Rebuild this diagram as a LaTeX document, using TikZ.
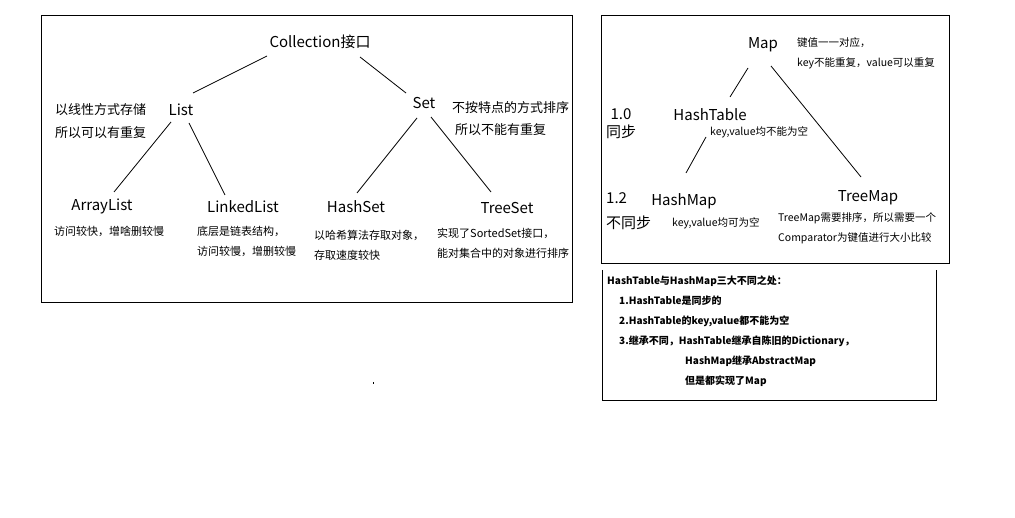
\documentclass[tikz,border=0pt]{standalone}
\usepackage{fontspec}
\setmainfont{Noto Sans CJK SC}
\usetikzlibrary{calc}
\tikzset{
  frame/.style={line width=1pt, color=black},
  branch/.style={line width=0.8pt, color=black},
  label/.style={inner sep=0pt, font=\fontsize{15}{18}\selectfont},
  note/.style={inner sep=0pt, anchor=west, align=left, font=\fontsize{11}{20}\selectfont},
}
\begin{document}
\begin{tikzpicture}[x=1pt, y=-1pt]
			%%%%% START %%%%%
			\useasboundingbox (0, 0) rectangle (1015, 518);
			
			% Collection tree
			\draw[frame] (41, 16) rectangle (572, 303);
			
			\node[label] (coll) at (320, 42) {Collection接口};
			\node[label] (list) at (181, 110) {List};
			\node[label] (set) at (424, 103) {Set};
			\node[label] (arraylist) at (102, 206) {ArrayList};
			\node[label] (linkedlist) at (243, 207) {LinkedList};
			\node[label] (hashset) at (356, 207) {HashSet};
			\node[label] (treeset) at (507, 208) {TreeSet};
			
			\node[note, font=\fontsize{13}{23}\selectfont] (listnote) at (55, 121.5) {以线性方式存储\\所以可以有重复};
			\node[note, font=\fontsize{13}{22}\selectfont] (setnote) at (452, 119) {不按特点的方式排序\\\hspace*{3pt}所以不能有重复};
			\node[note] (arraynote) at (54, 231) {访问较快，增啥删较慢};
			\node[note] (linkednote) at (197, 241) {底层是链表结构，\\访问较慢，增删较慢};
			\node[note] (hashsetnote) at (314, 245) {以哈希算法存取对象，\\存取速度较快};
			\node[note] (treesetnote) at (437, 243) {实现了SortedSet接口，\\能对集合中的对象进行排序};
			
			\draw[branch] ($(coll)+(-53, 14)$) -- ($(list)+(12, -17)$);
			\draw[branch] ($(coll)+(40, 15)$) -- ($(set)+(-18, -10)$);
			\draw[branch] ($(list)+(-10, 12)$) -- ($(arraylist)+(12, -14)$);
			\draw[branch] ($(list)+(8, 13)$) -- ($(linkedlist)+(-18, -12)$);
			\draw[branch] ($(set)+(-7, 15)$) -- ($(hashset)+(1, -14)$);
			\draw[branch] ($(set)+(7, 14)$) -- ($(treeset)+(-16, -16)$);
			
			\fill (372.5, 382.5) rectangle (374, 384);
			
			% Map tree
			\draw[frame] (601, 16) rectangle (949, 264);
			
			\node[label] (map) at (763, 45) {Map};
			\node[label] (hashtable) at (710, 115) {HashTable};
			\node[label] (hashmap) at (684, 201) {HashMap};
			\node[label] (treemap) at (868, 198) {TreeMap};
			
			\node[label, align=center] (v10) at (621, 124) {1.0\\同步};
			\node[label, anchor=west, align=left, font=\fontsize{15}{25}\selectfont] (v12) at (606, 211.5) {1.2\\不同步};
			
			\node[note, font=\fontsize{10.5}{20}\selectfont] (mapnote) at (797, 53) {键值一一对应，\\key不能重复，value可以重复};
			\node[note, font=\fontsize{10.5}{20}\selectfont] (hashtablenote) at (710, 132) {key,value均不能为空};
			\node[note, font=\fontsize{10.5}{20}\selectfont] (hashmapnote) at (672, 223) {key,value均可为空};
			\node[note, font=\fontsize{10.5}{20}\selectfont] (treemapnote) at (778, 228) {TreeMap需要排序，所以需要一个\\Comparator为键值进行大小比较};
			
			\draw[branch] ($(map)+(-15, 23)$) -- ($(hashtable)+(20, -18)$);
			\draw[branch] ($(map)+(8, 21)$) -- ($(treemap)+(-7, -21)$);
			\draw[branch] ($(hashtable)+(-4, 22)$) -- ($(hashmap)+(2, -28)$);
			
			% differences
			\draw[frame] (602, 270) -- (602, 401) -- (936, 401) -- (936, 270);
			\node[note, font=\bfseries\fontsize{10}{20}\selectfont] (diffs) at (607, 331) {HashTable与HashMap三大不同之处：\\
				\hspace*{12pt}1.HashTable是同步的\\
				\hspace*{12pt}2.HashTable的key,value都不能为空\\
				\hspace*{12pt}3.继承不同，HashTable继承自陈旧的Dictionary，\\
				\hspace*{78pt}HashMap继承AbstractMap\\
				\hspace*{78pt}但是都实现了Map};
			
			%%%%% END %%%%%
\end{tikzpicture}
\end{document}
